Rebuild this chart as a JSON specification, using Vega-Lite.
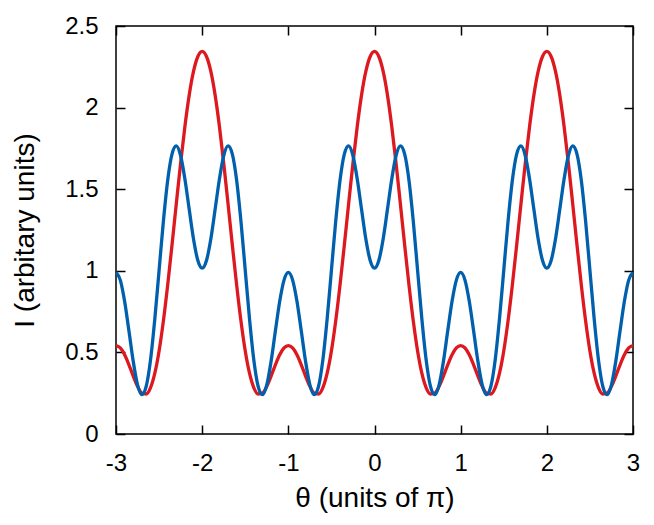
{
  "$schema": "https://vega.github.io/schema/vega-lite/v6.json",
  "width": 517,
  "height": 408,
  "autosize": {"type": "none"},
  "padding": {"left": 116, "top": 26, "right": 21, "bottom": 91},
  "background": "white",
  "config": {
    "font": "Liberation Sans",
    "view": {"stroke": "#000", "strokeWidth": 1.5},
    "axis": {
      "domain": false,
      "grid": false,
      "ticks": true,
      "tickColor": "#000",
      "tickWidth": 1.5,
      "tickSize": -9,
      "labelColor": "#000",
      "titleColor": "#000",
      "labelFont": "Liberation Sans",
      "titleFont": "Liberation Sans",
      "labelFontSize": 24,
      "titleFontSize": 28,
      "titleFontWeight": "normal",
      "labelFlush": false,
      "labelOverlap": false
    }
  },
  "data": {
    "values": [
      {"t": -3, "red": 0.542, "blue": 0.990},
      {"t": -2.95, "red": 0.527, "blue": 0.943},
      {"t": -2.9, "red": 0.485, "blue": 0.813},
      {"t": -2.85, "red": 0.424, "blue": 0.632},
      {"t": -2.8, "red": 0.355, "blue": 0.445},
      {"t": -2.75, "red": 0.292, "blue": 0.301},
      {"t": -2.7, "red": 0.251, "blue": 0.241},
      {"t": -2.65, "red": 0.245, "blue": 0.291},
      {"t": -2.6, "red": 0.283, "blue": 0.451},
      {"t": -2.55, "red": 0.371, "blue": 0.702},
      {"t": -2.5, "red": 0.509, "blue": 1.003},
      {"t": -2.45, "red": 0.693, "blue": 1.304},
      {"t": -2.4, "red": 0.914, "blue": 1.555},
      {"t": -2.35, "red": 1.158, "blue": 1.715},
      {"t": -2.3, "red": 1.412, "blue": 1.765},
      {"t": -2.25, "red": 1.660, "blue": 1.705},
      {"t": -2.2, "red": 1.886, "blue": 1.561},
      {"t": -2.15, "red": 2.078, "blue": 1.375},
      {"t": -2.1, "red": 2.223, "blue": 1.193},
      {"t": -2.05, "red": 2.313, "blue": 1.063},
      {"t": -2, "red": 2.344, "blue": 1.016},
      {"t": -1.95, "red": 2.313, "blue": 1.063},
      {"t": -1.9, "red": 2.223, "blue": 1.193},
      {"t": -1.85, "red": 2.078, "blue": 1.375},
      {"t": -1.8, "red": 1.886, "blue": 1.561},
      {"t": -1.75, "red": 1.660, "blue": 1.705},
      {"t": -1.7, "red": 1.412, "blue": 1.765},
      {"t": -1.65, "red": 1.158, "blue": 1.715},
      {"t": -1.6, "red": 0.914, "blue": 1.555},
      {"t": -1.55, "red": 0.693, "blue": 1.304},
      {"t": -1.5, "red": 0.509, "blue": 1.003},
      {"t": -1.45, "red": 0.371, "blue": 0.702},
      {"t": -1.4, "red": 0.283, "blue": 0.451},
      {"t": -1.35, "red": 0.245, "blue": 0.291},
      {"t": -1.3, "red": 0.251, "blue": 0.241},
      {"t": -1.25, "red": 0.292, "blue": 0.301},
      {"t": -1.2, "red": 0.355, "blue": 0.445},
      {"t": -1.15, "red": 0.424, "blue": 0.632},
      {"t": -1.1, "red": 0.485, "blue": 0.813},
      {"t": -1.05, "red": 0.527, "blue": 0.943},
      {"t": -1, "red": 0.542, "blue": 0.990},
      {"t": -0.95, "red": 0.527, "blue": 0.943},
      {"t": -0.9, "red": 0.485, "blue": 0.813},
      {"t": -0.85, "red": 0.424, "blue": 0.632},
      {"t": -0.8, "red": 0.355, "blue": 0.445},
      {"t": -0.75, "red": 0.292, "blue": 0.301},
      {"t": -0.7, "red": 0.251, "blue": 0.241},
      {"t": -0.65, "red": 0.245, "blue": 0.291},
      {"t": -0.6, "red": 0.283, "blue": 0.451},
      {"t": -0.55, "red": 0.371, "blue": 0.702},
      {"t": -0.5, "red": 0.509, "blue": 1.003},
      {"t": -0.45, "red": 0.693, "blue": 1.304},
      {"t": -0.4, "red": 0.914, "blue": 1.555},
      {"t": -0.35, "red": 1.158, "blue": 1.715},
      {"t": -0.3, "red": 1.412, "blue": 1.765},
      {"t": -0.25, "red": 1.660, "blue": 1.705},
      {"t": -0.2, "red": 1.886, "blue": 1.561},
      {"t": -0.15, "red": 2.078, "blue": 1.375},
      {"t": -0.1, "red": 2.223, "blue": 1.193},
      {"t": -0.05, "red": 2.313, "blue": 1.063},
      {"t": 0, "red": 2.344, "blue": 1.016},
      {"t": 0.05, "red": 2.313, "blue": 1.063},
      {"t": 0.1, "red": 2.223, "blue": 1.193},
      {"t": 0.15, "red": 2.078, "blue": 1.375},
      {"t": 0.2, "red": 1.886, "blue": 1.561},
      {"t": 0.25, "red": 1.660, "blue": 1.705},
      {"t": 0.3, "red": 1.412, "blue": 1.765},
      {"t": 0.35, "red": 1.158, "blue": 1.715},
      {"t": 0.4, "red": 0.914, "blue": 1.555},
      {"t": 0.45, "red": 0.693, "blue": 1.304},
      {"t": 0.5, "red": 0.509, "blue": 1.003},
      {"t": 0.55, "red": 0.371, "blue": 0.702},
      {"t": 0.6, "red": 0.283, "blue": 0.451},
      {"t": 0.65, "red": 0.245, "blue": 0.291},
      {"t": 0.7, "red": 0.251, "blue": 0.241},
      {"t": 0.75, "red": 0.292, "blue": 0.301},
      {"t": 0.8, "red": 0.355, "blue": 0.445},
      {"t": 0.85, "red": 0.424, "blue": 0.632},
      {"t": 0.9, "red": 0.485, "blue": 0.813},
      {"t": 0.95, "red": 0.527, "blue": 0.943},
      {"t": 1, "red": 0.542, "blue": 0.990},
      {"t": 1.05, "red": 0.527, "blue": 0.943},
      {"t": 1.1, "red": 0.485, "blue": 0.813},
      {"t": 1.15, "red": 0.424, "blue": 0.632},
      {"t": 1.2, "red": 0.355, "blue": 0.445},
      {"t": 1.25, "red": 0.292, "blue": 0.301},
      {"t": 1.3, "red": 0.251, "blue": 0.241},
      {"t": 1.35, "red": 0.245, "blue": 0.291},
      {"t": 1.4, "red": 0.283, "blue": 0.451},
      {"t": 1.45, "red": 0.371, "blue": 0.702},
      {"t": 1.5, "red": 0.509, "blue": 1.003},
      {"t": 1.55, "red": 0.693, "blue": 1.304},
      {"t": 1.6, "red": 0.914, "blue": 1.555},
      {"t": 1.65, "red": 1.158, "blue": 1.715},
      {"t": 1.7, "red": 1.412, "blue": 1.765},
      {"t": 1.75, "red": 1.660, "blue": 1.705},
      {"t": 1.8, "red": 1.886, "blue": 1.561},
      {"t": 1.85, "red": 2.078, "blue": 1.375},
      {"t": 1.9, "red": 2.223, "blue": 1.193},
      {"t": 1.95, "red": 2.313, "blue": 1.063},
      {"t": 2, "red": 2.344, "blue": 1.016},
      {"t": 2.05, "red": 2.313, "blue": 1.063},
      {"t": 2.1, "red": 2.223, "blue": 1.193},
      {"t": 2.15, "red": 2.078, "blue": 1.375},
      {"t": 2.2, "red": 1.886, "blue": 1.561},
      {"t": 2.25, "red": 1.660, "blue": 1.705},
      {"t": 2.3, "red": 1.412, "blue": 1.765},
      {"t": 2.35, "red": 1.158, "blue": 1.715},
      {"t": 2.4, "red": 0.914, "blue": 1.555},
      {"t": 2.45, "red": 0.693, "blue": 1.304},
      {"t": 2.5, "red": 0.509, "blue": 1.003},
      {"t": 2.55, "red": 0.371, "blue": 0.702},
      {"t": 2.6, "red": 0.283, "blue": 0.451},
      {"t": 2.65, "red": 0.245, "blue": 0.291},
      {"t": 2.7, "red": 0.251, "blue": 0.241},
      {"t": 2.75, "red": 0.292, "blue": 0.301},
      {"t": 2.8, "red": 0.355, "blue": 0.445},
      {"t": 2.85, "red": 0.424, "blue": 0.632},
      {"t": 2.9, "red": 0.485, "blue": 0.813},
      {"t": 2.95, "red": 0.527, "blue": 0.943},
      {"t": 3, "red": 0.542, "blue": 0.990}
    ]
  },
  "layer": [
    {
      "mark": {"type": "line", "color": "#dd181f", "strokeWidth": 3.3, "interpolate": "monotone", "clip": true},
      "encoding": {
        "x": {
          "field": "t", "type": "quantitative",
          "scale": {"domain": [-3, 3], "nice": false, "zero": false},
          "axis": {"orient": "bottom", "values": [-3, -2, -1, 0, 1, 2, 3], "labelExpr": "'' + datum.value", "labelPadding": 26, "title": "θ (units of π)", "titlePadding": 9}
        },
        "y": {
          "field": "red", "type": "quantitative",
          "scale": {"domain": [0, 2.5], "nice": false},
          "axis": {"orient": "left", "values": [0, 0.5, 1, 1.5, 2, 2.5], "labelExpr": "'' + datum.value", "labelPadding": 27, "title": "I (arbitary units)", "titlePadding": 25}
        }
      }
    },
    {
      "mark": {"type": "line", "color": "#0060ad", "strokeWidth": 3.3, "interpolate": "monotone", "clip": true},
      "encoding": {
        "x": {
          "field": "t", "type": "quantitative",
          "scale": {"domain": [-3, 3], "nice": false, "zero": false},
          "axis": {"orient": "top", "values": [-3, -2, -1, 0, 1, 2, 3], "labels": false, "title": null}
        },
        "y": {
          "field": "blue", "type": "quantitative",
          "scale": {"domain": [0, 2.5], "nice": false},
          "axis": {"orient": "right", "values": [0, 0.5, 1, 1.5, 2, 2.5], "labels": false, "title": null}
        }
      }
    }
  ],
  "resolve": {"axis": {"x": "independent", "y": "independent"}}
}
